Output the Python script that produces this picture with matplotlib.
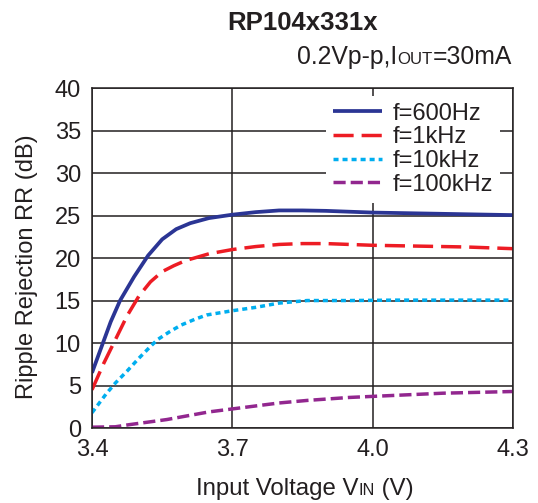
import matplotlib
matplotlib.use("Agg")
import matplotlib.pyplot as plt

plt.rcParams['font.family'] = ['Liberation Sans', 'DejaVu Sans']

# values
v_600 = [3.40, 3.42, 3.44, 3.46, 3.49, 3.52, 3.55, 3.58, 3.61, 3.65, 3.70,
         3.75, 3.80, 3.85, 3.90, 4.00, 4.10, 4.20, 4.30]
rr_600 = [6.5, 9.5, 12.5, 15.0, 17.8, 20.3, 22.2, 23.4, 24.1, 24.7, 25.1,
          25.4, 25.6, 25.6, 25.55, 25.35, 25.25, 25.15, 25.05]

v_1k = [3.40, 3.425, 3.45, 3.475, 3.50, 3.525, 3.55, 3.575, 3.60, 3.625, 3.65,
        3.70, 3.75, 3.80, 3.85, 3.90, 4.00, 4.10, 4.20, 4.30]
rr_1k = [4.5, 7.6, 10.4, 13.2, 15.5, 17.2, 18.4, 19.1, 19.7, 20.1, 20.5,
         21.0, 21.35, 21.6, 21.7, 21.7, 21.5, 21.4, 21.3, 21.1]

v_10k = [3.40, 3.43, 3.45, 3.475, 3.50, 3.525, 3.54, 3.565, 3.59, 3.62, 3.645,
         3.70, 3.75, 3.80, 3.86, 3.95, 4.05, 4.15, 4.30]
rr_10k = [1.8, 4.0, 5.3, 6.7, 8.2, 9.6, 10.4, 11.3, 12.1, 12.8, 13.3,
          13.8, 14.2, 14.7, 15.0, 15.0, 15.05, 15.05, 15.05]

v_100k = [3.40, 3.45, 3.48, 3.52, 3.56, 3.60, 3.65, 3.70, 3.75, 3.80, 3.86,
          3.95, 4.05, 4.15, 4.30]
rr_100k = [0.1, 0.15, 0.4, 0.7, 1.0, 1.4, 1.9, 2.25, 2.6, 2.95, 3.25,
           3.6, 3.85, 4.1, 4.3]

x_ticks = [3.4, 3.7, 4.0, 4.3]
x_tick_labels = ["3.4", "3.7", "4.0", "4.3"]
y_ticks = [0, 5, 10, 15, 20, 25, 30, 35, 40]

ink = "#231f20"
fs = 17

fig = plt.figure(figsize=(5.38, 5.03), dpi=100)
ax = fig.add_axes([0.171, 0.149, 0.7825, 0.676])

lw = 2.5
ax.plot(v_600, rr_600, color="#2b3594", lw=lw + 0.2, label="f=600Hz",
        solid_capstyle="butt")
ax.plot(v_1k, rr_1k, color="#ed1c24", lw=lw, label="f=1kHz",
        dashes=(5.8, 2.3))
ax.plot(v_10k, rr_10k, color="#00aeef", lw=lw, label="f=10kHz",
        dashes=(1.45, 1.15))
ax.plot(v_100k, rr_100k, color="#92278f", lw=lw, label="f=100kHz",
        dashes=(3.5, 1.45))

ax.set_xlim(3.4, 4.3)
ax.set_ylim(0, 40)
ax.set_xticks(x_ticks)
ax.set_xticklabels(x_tick_labels)
ax.set_yticks(y_ticks)
ax.tick_params(length=0, pad=8, labelsize=fs, colors=ink)
ax.grid(True, color=ink, lw=1.1)
ax.set_axisbelow(True)
for s in ax.spines.values():
    s.set_color(ink)
    s.set_linewidth(1.1)

ax.set_ylabel("Ripple Rejection RR (dB)", fontsize=17, color=ink)
ax.yaxis.set_label_coords(-0.128, 0.475)

leg = ax.legend(loc="upper right", bbox_to_anchor=(0.97, 0.978),
                fontsize=fs, frameon=True, fancybox=False, framealpha=1,
                facecolor="white", edgecolor="none", handlelength=2.1,
                handletextpad=0.45, labelspacing=0.07, borderpad=0.3,
                borderaxespad=0.0)
for t in leg.get_texts():
    t.set_color(ink)


def put_runs(runs, x, y, ha):
    # place text pieces side by side on one baseline (for small-caps subscripts)
    fig.canvas.draw()
    r = fig.canvas.get_renderer()
    arts = []
    cur = 0.0
    for txt, size in runs:
        a = fig.text(cur, y, txt, fontsize=size, color=ink, va="baseline")
        w = a.get_window_extent(r).width / fig.bbox.width
        arts.append((a, cur))
        cur += w
    if ha == "center":
        start = x - cur / 2
    elif ha == "right":
        start = x - cur
    else:
        start = x
    for a, off in arts:
        a.set_x(start + off)


fig.text(0.563, 0.94, "RP104x331x", fontsize=18.5, fontweight="bold",
         color=ink, ha="center", va="baseline")
put_runs([("0.2Vp-p,I", 17.8), ("OUT", 17.8 * 0.68), ("=30mA", 17.8)],
         0.952, 0.872, "right")
put_runs([("Input Voltage V", 17.3), ("IN", 17.3 * 0.68), (" (V)", 17.3)],
         0.567, 0.016, "center")

fig.savefig("out.png", dpi=100)
